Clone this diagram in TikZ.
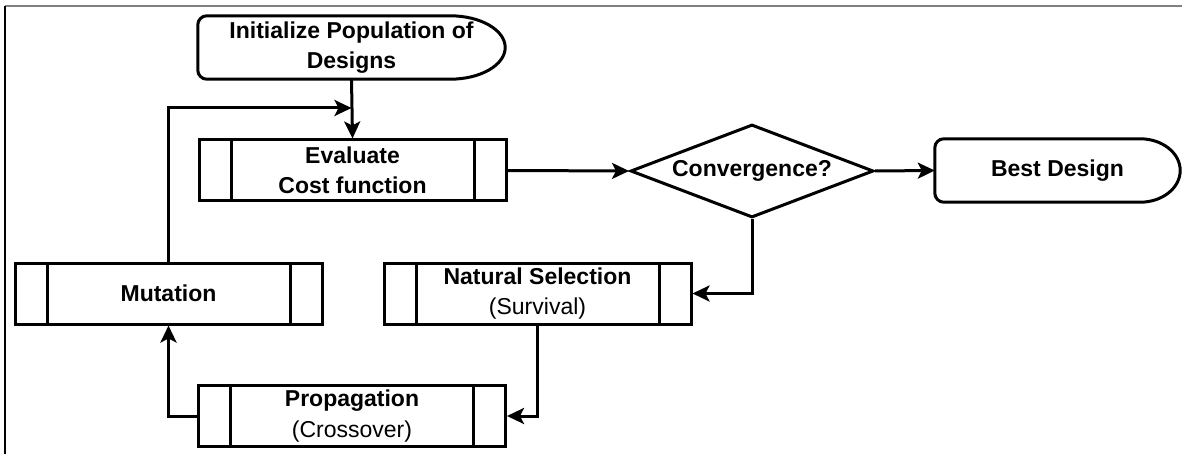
\documentclass[tikz,border=0pt]{standalone}
\usepackage{fontspec}
\setmainfont{Liberation Sans}
\usetikzlibrary{arrows.meta,shapes.geometric,calc}

% Outline of a terminal node: rounded on the left, half-ellipse on the right.
% #1 = node name, #2 = depth of the curved end
\newcommand\termoutline[2]{%
  \draw[lw, rounded corners=9pt]
    ($(#1.north east)+(-#2,0)$) -- (#1.north west) -- (#1.south west)
    [sharp corners] -- ($(#1.south east)+(-#2,0)$)
    .. controls ($(#1.south east)+(-0.448*#2,0)$) and ($(#1.east)!0.552!(#1.south east)$) .. (#1.east)
    .. controls ($(#1.east)!0.552!(#1.north east)$) and ($(#1.north east)+(-0.448*#2,0)$) .. ($(#1.north east)+(-#2,0)$);%
}

\begin{document}
\begin{tikzpicture}[x=1pt,y=-1pt,
  every node/.style={font=\fontsize{23}{30.5}\selectfont, align=center, inner sep=0pt},
  lw/.style={line width=3pt},
  proc/.style={draw, lw, minimum width=307pt, minimum height=61pt,
    path picture={\draw[lw]
      ([xshift=32pt]path picture bounding box.north west) -- ([xshift=32pt]path picture bounding box.south west)
      ([xshift=-32pt]path picture bounding box.north east) -- ([xshift=-32pt]path picture bounding box.south east);}},
  term/.style={minimum height=63pt},
  decision/.style={draw, lw, diamond, shape aspect=2.6, minimum width=243pt, minimum height=93pt},
  arrow/.style={lw, -{Stealth[length=17pt,width=16pt,inset=4pt]}}
]
\fill[white] (0,0) rectangle (1182,454);
\useasboundingbox (0,0) rectangle (1182,454);

% frame edges
\draw[gray, line width=2pt] (5,6) -- (1182,6);
\draw[black, line width=1.5pt] (5,6) -- (5,454);

% nodes
\node[term, minimum width=307pt] (init) at (351.5,47.5) {\bfseries Initialize Population of\\\bfseries Designs};
\termoutline{init}{55}

\node[proc] (eval) at (352.5,170.5) {\bfseries Evaluate\\\bfseries Cost function};
\node[decision] (conv) at (752,171) {\bfseries Convergence?};

\node[term, minimum width=245pt] (best) at (1057.5,170.5) {\bfseries Best Design};
\termoutline{best}{40}

\node[proc] (mut) at (168.5,293.5) {\bfseries Mutation};
\node[proc] (nat) at (537.5,293.5) {\bfseries Natural Selection\\(Survival)};
\node[proc] (prop) at (352,416) {\bfseries Propagation\\(Crossover)};

% connectors
\coordinate (join) at (init.south |- 0,108);
\draw[arrow] (init.south) -- (eval.north);
\draw[arrow] (mut.north) |- (join);
\draw[arrow] (eval.east) -- (conv.west);
\draw[arrow] (conv.east) -- (best.west);
\draw[arrow] (conv.south) |- (nat.east);
\draw[arrow] (nat.south) |- (prop.east);
\draw[arrow] (prop.west) -| (mut.south);
\end{tikzpicture}
\end{document}
